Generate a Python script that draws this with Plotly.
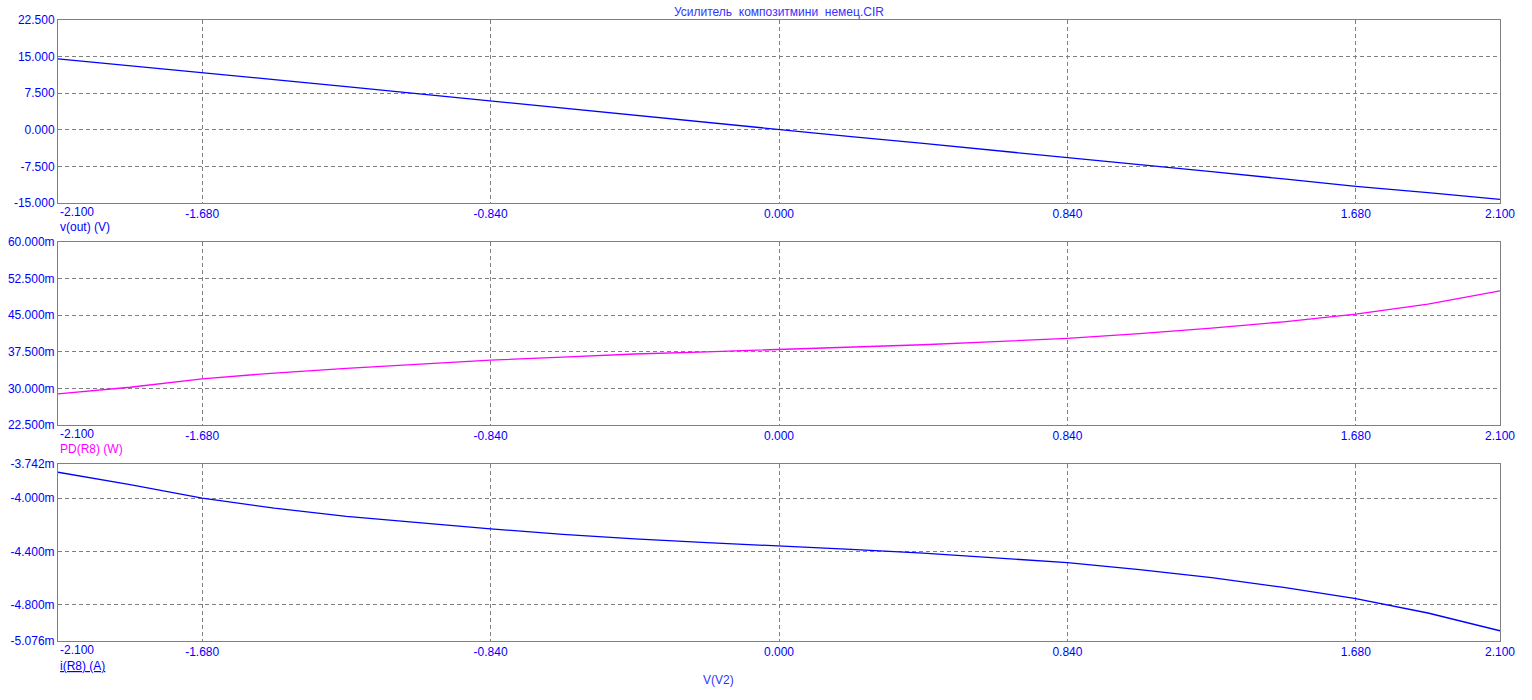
import plotly.graph_objects as go

# ---- data ----
sweep_v2 = [-2.1, -1.89, -1.68, -1.47, -1.26, -1.05, -0.84, -0.63, -0.42, -0.21, 0.0,
            0.21, 0.42, 0.63, 0.84, 1.05, 1.26, 1.47, 1.68, 1.89, 2.1]
v_out = [14.52, 13.15, 11.75, 10.3, 8.85, 7.37, 5.89, 4.45, 2.98, 1.5, 0.0,
         -1.4, -2.8, -4.21, -5.62, -7.1, -8.59, -10.07, -11.58, -12.88, -14.25]
pd_r8_mw = [28.87, 30.24, 31.95, 33.15, 34.1, 34.9, 35.79, 36.4, 37.05, 37.5, 38.0,
            38.42, 38.94, 39.58, 40.25, 41.22, 42.35, 43.65, 45.2, 47.25, 49.97]
i_r8_ma = [-3.804, -3.897, -4.000, -4.075, -4.136, -4.186, -4.231, -4.272, -4.307, -4.335, -4.358,
           -4.385, -4.413, -4.450, -4.486, -4.538, -4.599, -4.672, -4.757, -4.865, -4.999]

x_ticks = [-2.1, -1.68, -0.84, 0.0, 0.84, 1.68, 2.1]
x_tick_text = ["", "-1.680", "-0.840", "0.000", "0.840", "1.680", "2.100"]

y1_ticks = [22.5, 15, 7.5, 0, -7.5, -15]
y1_text = ["22.500", "15.000", "7.500", "0.000", "-7.500", "-15.000"]
y2_ticks = [60, 52.5, 45, 37.5, 30, 22.5]
y2_text = ["60.000m", "52.500m", "45.000m", "37.500m", "30.000m", "22.500m"]
y3_ticks = [-3.742, -4.0, -4.4, -4.8, -5.076]
y3_text = ["-3.742m", "-4.000m", "-4.400m", "-4.800m", "-5.076m"]

title_text = "Усилитель\u00a0 композитмини\u00a0 немец.CIR"

# ---- styling ----
BLUE = "#0000FF"
MAGENTA = "#FF00FF"
GRAY = "#808080"
FONT = "Arial, Liberation Sans, sans-serif"
FS = 12

W, H = 1532, 700
L, R, T, B = 58, 32, 20, 59
plot_h = H - T - B  # 621
PLOT_BOTTOM = H - B  # 641


def ydom(top_px, bot_px):
    return [(PLOT_BOTTOM - bot_px) / plot_h, (PLOT_BOTTOM - top_px) / plot_h]


def py(px):
    return (PLOT_BOTTOM - px) / plot_h


fig = go.Figure()
fig.add_trace(go.Scatter(x=sweep_v2, y=v_out, mode="lines",
                         line=dict(color=BLUE, width=1.3), xaxis="x", yaxis="y"))
fig.add_trace(go.Scatter(x=sweep_v2, y=pd_r8_mw, mode="lines",
                         line=dict(color=MAGENTA, width=1.3), xaxis="x2", yaxis="y2"))
fig.add_trace(go.Scatter(x=sweep_v2, y=i_r8_ma, mode="lines",
                         line=dict(color=BLUE, width=1.3), xaxis="x3", yaxis="y3"))

xcommon = dict(range=[-2.1, 2.1], tickmode="array", tickvals=x_ticks, ticktext=x_tick_text,
               showgrid=True, gridcolor=GRAY, griddash="4px,3px", gridwidth=1,
               showline=True, linecolor=GRAY, linewidth=1, mirror=True,
               ticks="", zeroline=False, tickfont=dict(color=BLUE, size=FS, family=FONT),
               fixedrange=True, automargin=False)
ycommon = dict(showgrid=True, gridcolor=GRAY, griddash="4px,3px", gridwidth=1,
               showline=True, linecolor=GRAY, linewidth=1, mirror=True,
               ticks="", zeroline=False, tickmode="array",
               tickfont=dict(color=BLUE, size=FS, family=FONT), fixedrange=True,
               automargin=False)

layout = dict(
    width=W, height=H,
    margin=dict(l=L, r=R, t=T, b=B, pad=0, autoexpand=False),
    paper_bgcolor="white", plot_bgcolor="white",
    showlegend=False,
    hovermode=False,
    font=dict(family=FONT, size=FS, color=BLUE),
    xaxis=dict(xcommon, anchor="y"),
    xaxis2=dict(xcommon, anchor="y2"),
    xaxis3=dict(xcommon, anchor="y3"),
    yaxis=dict(ycommon, domain=ydom(20, 203), range=[-15, 22.5],
               tickvals=y1_ticks, ticktext=y1_text, anchor="x"),
    yaxis2=dict(ycommon, domain=ydom(242, 425), range=[22.5, 60],
                tickvals=y2_ticks, ticktext=y2_text, anchor="x2"),
    yaxis3=dict(ycommon, domain=ydom(464, 641), range=[-5.076, -3.742],
                tickvals=y3_ticks, ticktext=y3_text, anchor="x3"),
)
fig.update_layout(**layout)

ann = []
# left-aligned "-2.100" labels under each panel
for ypx in (212, 434, 650):
    ann.append(dict(x=0, y=py(ypx), xref="paper", yref="paper", text="-2.100",
                    showarrow=False, xanchor="left", yanchor="middle",
                    font=dict(color=BLUE, size=FS, family=FONT)))
ann.append(dict(x=0, y=py(227), xref="paper", yref="paper", text="v(out) (V)",
                showarrow=False, xanchor="left", yanchor="middle",
                font=dict(color=BLUE, size=FS, family=FONT)))
ann.append(dict(x=0, y=py(449), xref="paper", yref="paper", text="PD(R8) (W)",
                showarrow=False, xanchor="left", yanchor="middle",
                font=dict(color=MAGENTA, size=FS, family=FONT)))
ann.append(dict(x=0, y=py(666), xref="paper", yref="paper", text="<u>i(R8) (A)</u>",
                showarrow=False, xanchor="left", yanchor="middle",
                font=dict(color=BLUE, size=FS, family=FONT)))
ann.append(dict(x=(718 - L) / (W - L - R), y=py(680), xref="paper", yref="paper",
                text="V(V2)", showarrow=False, xanchor="center", yanchor="middle",
                font=dict(color="#3333FF", size=FS, family=FONT)))
ann.append(dict(x=0.5, y=py(12.5), xref="paper", yref="paper", text=title_text,
                showarrow=False, xanchor="center", yanchor="middle",
                font=dict(color="#3333FF", size=FS, family=FONT)))
fig.update_layout(annotations=ann)

# remove the browser's default 8px body margin so the figure fills the window
fig.write_html("out.html",
               config={"displayModeBar": False, "staticPlot": True},
               post_script="document.body.style.margin='0px';"
                           "document.body.style.overflow='hidden';")
